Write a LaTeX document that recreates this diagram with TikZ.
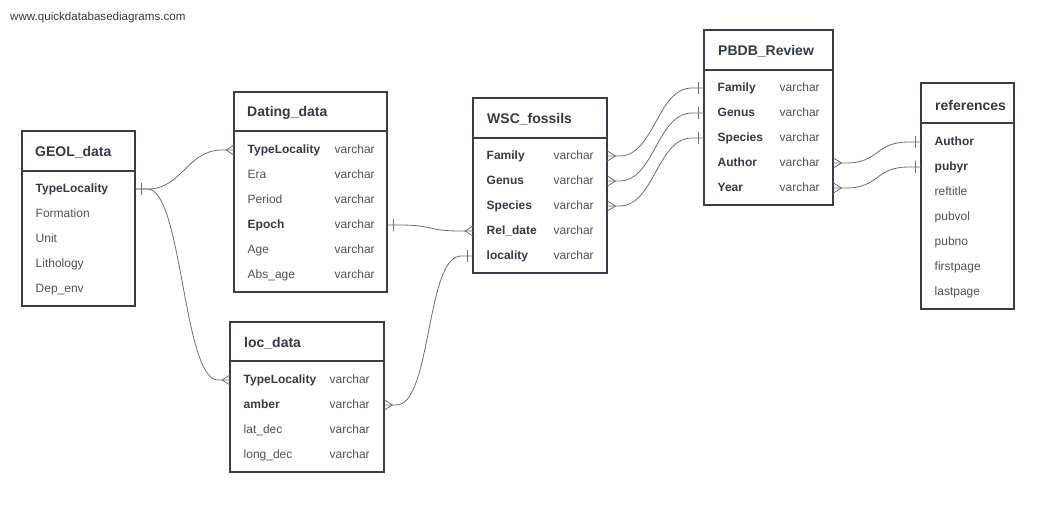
\documentclass[tikz,border=0pt]{standalone}
\usepackage{fontspec}
\setmainfont{Liberation Sans}
\usepackage{tikz}
\usetikzlibrary{calc, decorations.markings}
\definecolor{titlec}{HTML}{343B44}
\definecolor{fieldc}{HTML}{4C535A}
\definecolor{boxc}{HTML}{363E47}
\definecolor{linkc}{HTML}{6E6E6E}
\newcommand{\pk}[1]{\textbf{\color{titlec}#1}}

\tikzset{
  tableframe/.style={draw=boxc, line width=2pt},
  tabletitle/.style={anchor=west, inner sep=0pt, text=titlec,
    font=\fontsize{14}{16}\selectfont\bfseries},
  fieldrow/.style={anchor=west, inner xsep=13.5pt, inner ysep=0pt,
    text width=#1, align=left, text=fieldc, text height=9pt, text depth=3pt,
    font=\fontsize{12}{14}\selectfont},
  link/.style={draw=linkc, line width=0.8pt,
    to path={-- ++(12,0) .. controls +(35,0) and +(-35,0) .. ($(\tikztotarget)+(-12,0)$) -- (\tikztotarget)}},
  onestart/.style={postaction={decorate, decoration={markings,
    mark=at position 6pt with {\draw[linkc, line width=0.8pt] (0pt,-6pt) -- (0pt,6pt);}}}},
  oneend/.style={postaction={decorate, decoration={markings,
    mark=at position -6pt with {\draw[linkc, line width=0.8pt] (0pt,-6pt) -- (0pt,6pt);}}}},
  manystart/.style={postaction={decorate, decoration={markings,
    mark=at position 8pt with {\draw[linkc, line width=0.8pt] (-8pt,5pt) -- (0pt,0pt) -- (-8pt,-5pt);}}}},
  manyend/.style={postaction={decorate, decoration={markings,
    mark=at position -8pt with {\draw[linkc, line width=0.8pt] (8pt,5pt) -- (0pt,0pt) -- (8pt,-5pt);}}}},
}

\begin{document}
\begin{tikzpicture}[x=1pt, y=-1pt]
\useasboundingbox[fill=white] (0,0) rectangle (1051,507);

\node[anchor=west, inner sep=0pt, text=titlec, font=\fontsize{11.6}{13}\selectfont]
  (site) at (10,17) {www.quickdatabasediagrams.com};

% GEOL_data
\draw[tableframe] (22,131) rectangle (135,306);
\draw[tableframe] (22,171) -- (135,171);
\node[tabletitle] (geol) at (35,152) {GEOL\_data};
\foreach [count=\i] \fld in {\pk{TypeLocality}, Formation, Unit, Lithology, Dep\_env}
  \node[fieldrow=86pt] (geol-\i) at (22,164+25*\i) {\fld};

% Dating_data
\draw[tableframe] (234,92) rectangle (387,292);
\draw[tableframe] (234,131) -- (387,131);
\node[tabletitle] (dating) at (247,113) {Dating\_data};
\foreach [count=\i] \fld in {\pk{TypeLocality}, Era, Period, \pk{Epoch}, Age, Abs\_age}
  \node[fieldrow=126pt] (dating-\i) at (234,125+25*\i) {\makebox[87pt][l]{\fld}varchar};

% loc_data
\draw[tableframe] (230,322) rectangle (384,472);
\draw[tableframe] (230,361) -- (384,361);
\node[tabletitle] (loc) at (244,343) {loc\_data};
\foreach [count=\i] \fld in {\pk{TypeLocality}, \pk{amber}, lat\_dec, long\_dec}
  \node[fieldrow=127pt] (loc-\i) at (230,355+25*\i) {\makebox[86pt][l]{\fld}varchar};

% WSC_fossils
\draw[tableframe] (473,98) rectangle (607,273);
\draw[tableframe] (473,138) -- (607,138);
\node[tabletitle] (wsc) at (487,119) {WSC\_fossils};
\foreach [count=\i] \fld in {\pk{Family}, \pk{Genus}, \pk{Species}, \pk{Rel\_date}, \pk{locality}}
  \node[fieldrow=107pt] (wsc-\i) at (473,131+25*\i) {\makebox[67pt][l]{\fld}varchar};

% PBDB_Review
\draw[tableframe] (704,30) rectangle (833,205);
\draw[tableframe] (704,70) -- (833,70);
\node[tabletitle] (pbdb) at (718,51) {PBDB\_Review};
\foreach [count=\i] \fld in {\pk{Family}, \pk{Genus}, \pk{Species}, \pk{Author}, \pk{Year}}
  \node[fieldrow=102pt] (pbdb-\i) at (704,63+25*\i) {\makebox[62pt][l]{\fld}varchar};

% references
\draw[tableframe] (921,83) rectangle (1014,309);
\draw[tableframe] (921,123) -- (1014,123);
\node[tabletitle] (refs) at (935,105) {references};
\foreach [count=\i] \fld in {\pk{Author}, \pk{pubyr}, reftitle, pubvol, pubno, firstpage, lastpage}
  \node[fieldrow=66pt] (refs-\i) at (921,117+25*\i) {\fld};

% relations
\draw[link, onestart, manyend] (geol-1.east) to (dating-1.west);
\draw[link, onestart, manyend] (geol-1.east) to (loc-1.west);
\draw[link, onestart, manyend] (dating-4.east) to (wsc-4.west);
\draw[link, manystart, oneend] (loc-2.east) to (wsc-5.west);
\foreach \i in {1,2,3}
  \draw[link, manystart, oneend] (wsc-\i.east) to (pbdb-\i.west);
\draw[link, manystart, oneend] (pbdb-4.east) to (refs-1.west);
\draw[link, manystart, oneend] (pbdb-5.east) to (refs-2.west);
\end{tikzpicture}
\end{document}
